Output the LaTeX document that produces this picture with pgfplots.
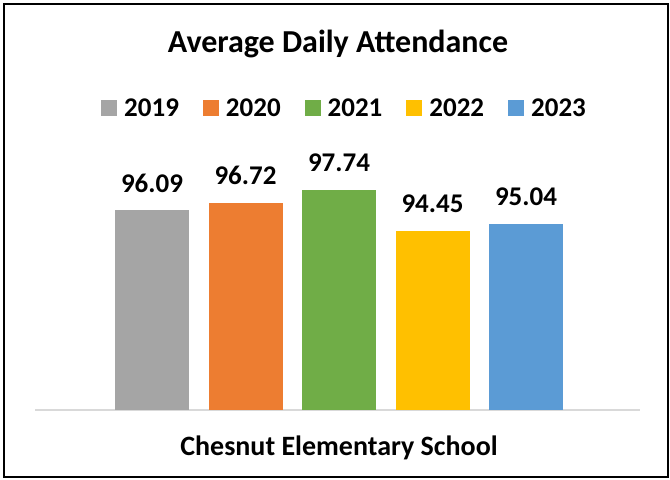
\documentclass[border=0pt]{standalone}
\usepackage{pgfplots}
\pgfplotsset{compat=1.18}
\usepackage{fontspec}
\setmainfont{Carlito}
\definecolor{cA}{HTML}{A5A5A5}
\definecolor{cB}{HTML}{ED7D31}
\definecolor{cC}{HTML}{70AD47}
\definecolor{cD}{HTML}{FFC000}
\definecolor{cE}{HTML}{5B9BD5}
\definecolor{baseline}{HTML}{D9D9D9}
\newcommand{\titlefont}{\fontsize{32bp}{36bp}\selectfont\bfseries}
\newcommand{\bigfont}{\fontsize{28bp}{32bp}\selectfont\bfseries}
\newcommand{\midfont}{\fontsize{27bp}{31bp}\selectfont\bfseries}
\begin{document}
\begin{tikzpicture}
\useasboundingbox (0bp,0bp) rectangle (670bp,480bp);
\draw[line width=2bp] (4bp,3bp) rectangle (668bp,476bp);
\node[anchor=base, font=\titlefont, inner sep=0pt] at (338bp,427bp) {Average Daily Attendance};
\node[anchor=base, font=\bigfont, inner sep=0pt] at (339bp,25bp) {Chesnut Elementary School};
\begin{axis}[
  at={(35bp,70bp)}, anchor=south west,
  width=605bp, height=248bp, scale only axis,
  xmin=-1.005, xmax=0.995, ymin=80, ymax=100,
  ybar=19.5bp, bar width=74bp,
  axis y line=none, axis x line*=bottom,
  x axis line style={-, draw=baseline, line width=2bp},
  xtick=\empty, ytick=\empty,
  clip=false,
  nodes near coords,
  nodes near coords style={font=\midfont, anchor=south, inner sep=0pt, yshift=18bp, text=black},
  /pgf/number format/fixed,
  /pgf/number format/fixed zerofill,
  /pgf/number format/precision=2,
  /pgf/number format/assume math mode=true,
  legend columns=5,
  legend image code/.code={\fill[#1] (0bp,-8bp) rectangle (16bp,8bp);},
  legend style={at={(0.51,1.218)}, anchor=center, draw=none, fill=none,
    font=\midfont, nodes={inner sep=0pt},
    /tikz/every odd column/.append style={column sep=7bp},
    /tikz/every even column/.append style={column sep=24bp}},
]
\addplot[fill=cA, draw=none] coordinates {(0,96.09)};
\addplot[fill=cB, draw=none] coordinates {(0,96.72)};
\addplot[fill=cC, draw=none] coordinates {(0,97.74)};
\addplot[fill=cD, draw=none] coordinates {(0,94.45)};
\addplot[fill=cE, draw=none] coordinates {(0,95.04)};
\legend{2019,2020,2021,2022,2023}
\end{axis}
\end{tikzpicture}
\end{document}
